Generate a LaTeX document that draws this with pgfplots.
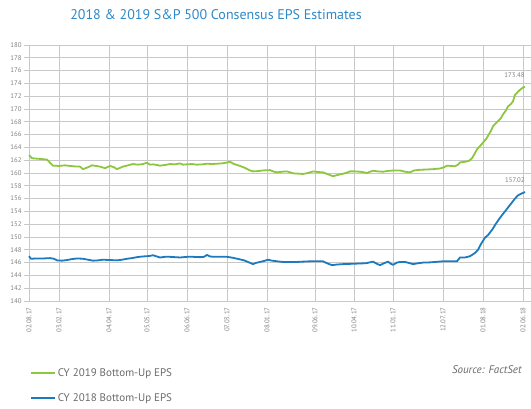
\documentclass[border=0pt]{standalone}
\usepackage{fontspec}
\setmainfont{PT Sans}
\usepackage{pgfplots}
\pgfplotsset{compat=1.18}

\definecolor{titleblue}{RGB}{45,137,200}
\definecolor{epsgreen}{RGB}{141,198,63}
\definecolor{epsblue}{RGB}{28,122,190}
\definecolor{gridgray}{RGB}{200,200,200}
\definecolor{labelgray}{RGB}{130,130,130}
\definecolor{textgray}{RGB}{105,105,105}

\begin{document}
\begin{tikzpicture}[x=1pt,y=1pt]
\path[use as bounding box] (0,0) rectangle (531,409);

\node[font=\fontsize{14}{16}\selectfont, text=titleblue] at (216,394)
  {2018 \& 2019 S\&P 500 Consensus EPS Estimates};

\begin{axis}[
  at={(27pt,108pt)}, anchor=south west,
  scale only axis, width=502pt, height=256pt,
  xmin=27, xmax=529, ymin=140, ymax=180,
  ytick={140,142,...,180},
  xtick={29,59,109,147,187,227,267,315,354,393,443,483,523},
  xticklabels={02.08.17,03.02.17,04.04.17,05.05.17,06.06.17,07.03.17,08.01.17,
               09.06.17,10.04.17,11.01.17,12.07.17,01.08.18,02.06.18},
  grid=major,
  major grid style={draw=gridgray, line width=0.8pt},
  axis line style={draw=none},
  major tick length=3pt,
  tick style={draw=gridgray, line width=0.8pt},
  xtick style={draw=none},
  tick align=outside,
  /pgf/number format/assume math mode=true,
  yticklabel style={font=\fontsize{6.8}{7}\selectfont, text=labelgray, xshift=1pt},
  xticklabel style={font=\fontsize{6.8}{7}\selectfont, text=labelgray, rotate=90, anchor=east, yshift=0pt},
  legend style={at={(axis description cs:0,0)}, anchor=north west,
    xshift=3pt, yshift=-65pt, draw=none, fill=none,
    font=\fontsize{11}{13}\selectfont, text=textgray,
    row sep=12pt, inner sep=0pt},
  legend cell align=left,
  legend image code/.code={\draw[#1, line width=1.6pt] (0,0) -- (24pt,0);},
  clip=false,
]
% CY 2019 bottom-up EPS
\addplot[epsgreen, line width=1.8pt, line join=round] coordinates {
(29,162.8) (32,162.3) (40,162.2) (47,162.1) (50,161.6) (53,161.15) (59,161.1)
(65,161.2) (70,161.1) (77,161.0) (80,161.0) (83,160.6) (88,160.9) (92,161.2)
(96,161.1) (100,161.0) (105,160.75) (110,161.1) (114,160.9) (117,160.6)
(120,160.8) (123,161.0) (128,161.2) (133,161.4) (138,161.3) (143,161.4)
(147,161.6) (150,161.3) (153,161.35) (157,161.25) (160,161.15) (165,161.25)
(170,161.4) (175,161.35) (180,161.5) (183,161.3) (187,161.35) (192,161.4)
(197,161.3) (202,161.35) (207,161.45) (212,161.4) (217,161.45) (222,161.5)
(226,161.6) (230,161.75) (234,161.4) (240,161.1) (245,160.8) (250,160.4)
(253,160.25) (258,160.3) (263,160.4) (270,160.45) (274,160.2) (277,160.1)
(282,160.2) (287,160.25) (293,159.95) (298,159.9) (303,159.85) (308,160.0)
(313,160.25) (318,160.15) (323,160.1) (328,159.8) (333,159.5) (338,159.7)
(342,159.85) (346,160.0) (350,160.25) (355,160.25) (360,160.2) (364,160.1)
(367,160.0) (370,160.2) (373,160.35) (378,160.25) (383,160.2) (387,160.3)
(390,160.35) (395,160.4) (400,160.4) (405,160.2) (410,160.1) (414,160.4)
(420,160.5) (427,160.55) (433,160.6) (440,160.7) (444,160.9) (447,161.15)
(451,161.1) (455,161.05) (458,161.3) (460,161.65) (465,161.75) (469,161.9)
(472,162.3) (475,163.1) (477,163.7) (480,164.2) (483,164.75) (486,165.3)
(488,165.8) (491,166.6) (493,167.3) (496,167.8) (498,168.1) (501,168.6)
(503,169.15) (506,169.8) (508,170.4) (511,170.8) (513,171.2) (515,172.2)
(518,172.7) (520,173.0) (523,173.35) (525,173.48)
};
\addlegendentry{CY 2019 Bottom-Up EPS}
% CY 2018 bottom-up EPS
\addplot[epsblue, line width=1.8pt, line join=round] coordinates {
(29,147.0) (31,146.6) (37,146.65) (44,146.65) (50,146.7) (54,146.6) (57,146.35)
(62,146.3) (67,146.4) (72,146.55) (77,146.65) (83,146.6) (88,146.45) (93,146.3)
(98,146.35) (103,146.45) (110,146.4) (117,146.35) (122,146.45) (127,146.6)
(132,146.7) (137,146.85) (142,146.95) (147,147.0) (150,147.05) (153,147.15)
(156,147.0) (160,146.8) (165,146.9) (170,146.9) (175,146.85) (180,146.8)
(187,146.9) (193,146.9) (200,146.85) (204,146.9) (207,147.2) (210,146.95)
(215,146.9) (220,146.9) (227,146.9) (233,146.75) (240,146.5) (244,146.35)
(248,146.1) (253,145.76) (256,145.95) (260,146.1) (264,146.25) (268,146.45)
(272,146.3) (277,146.2) (283,146.1) (290,146.1) (297,146.1) (303,146.15)
(310,146.2) (317,146.2) (323,146.2) (327,145.9) (332,145.6) (337,145.7)
(343,145.76) (350,145.8) (360,145.86) (366,145.9) (373,146.15) (377,145.8)
(380,145.6) (384,145.9) (388,146.15) (391,145.8) (393,145.65) (397,146.0)
(400,146.1) (405,146.1) (410,145.9) (413,145.76) (418,145.9) (423,146.0)
(427,146.0) (435,146.1) (443,146.2) (450,146.2) (457,146.2) (460,146.8)
(465,146.8) (470,147.0) (475,147.5) (478,148.0) (481,148.9) (485,149.9)
(488,150.3) (492,151.1) (496,152.1) (500,153.0) (504,153.8) (508,154.6)
(512,155.4) (515,156.0) (518,156.5) (521,156.75) (525,157.02)
};
\addlegendentry{CY 2018 Bottom-Up EPS}

\node[font=\fontsize{6.8}{7}\selectfont, text=labelgray, anchor=south east]
  at (axis cs:528,174.3) {173.48};
\node[font=\fontsize{6.8}{7}\selectfont, text=labelgray, anchor=south east]
  at (axis cs:528,157.9) {157.02};
\end{axis}

\node[font=\fontsize{11}{13}\selectfont\itshape, text=textgray, anchor=east]
  at (525,39) {Source: FactSet};
\end{tikzpicture}
\end{document}
